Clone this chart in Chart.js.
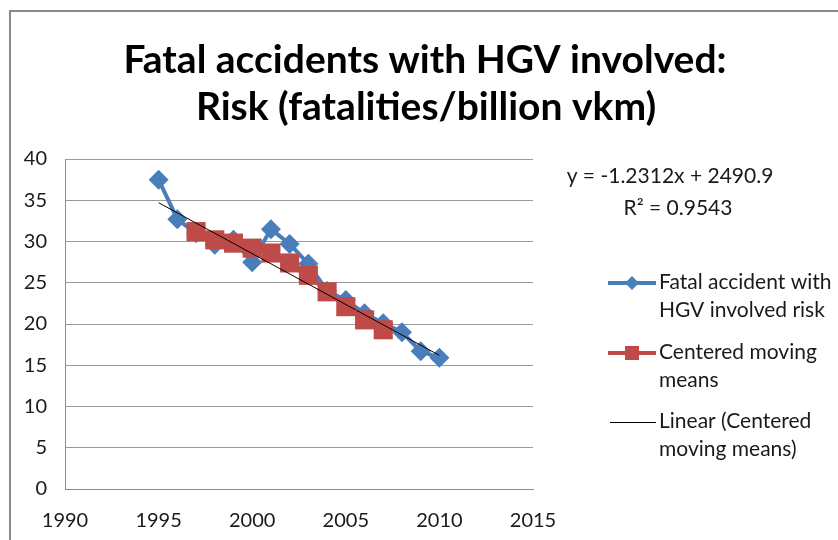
<!DOCTYPE html>
<html>
<head>
<meta charset="utf-8">
<title>Fatal accidents with HGV involved</title>
<script src="https://cdn.jsdelivr.net/npm/chart.js@4.4.1/dist/chart.umd.min.js"></script>
<style>
    html, body { margin: 0; padding: 0; background: #fff; overflow: hidden; }
    #wrap { position: relative; width: 838px; height: 540px; }
    #frame {
        position: absolute; left: 9px; top: 10px; width: 900px; height: 600px;
        border-left: 2px solid #8a8a8a; border-top: 2px solid #8a8a8a;
        pointer-events: none;
    }
</style>
</head>
<body>
<div id="wrap">
    <canvas id="myChart"></canvas>
    <div id="frame"></div>
</div>
<script>
// data
const riskYears = [1995, 1996, 1997, 1998, 1999, 2000, 2001, 2002, 2003, 2004, 2005, 2006, 2007, 2008, 2009, 2010];
const riskValues = [37.5, 32.7, 31.0, 29.6, 30.2, 27.5, 31.5, 29.7, 27.3, 24.0, 22.9, 21.3, 20.1, 19.0, 16.7, 15.9];

const cmmYears = [1997, 1998, 1999, 2000, 2001, 2002, 2003, 2004, 2005, 2006, 2007];
const cmmValues = [31.2, 30.2, 29.8, 29.2, 28.6, 27.4, 25.9, 23.9, 22.1, 20.5, 19.3];

// end points of the linear trend line as drawn
const trendYears = [1995, 2010];
const trendValues = [34.7, 16.2];

const xRange = [1990, 2015];
const yRange = [0, 40];
const tickStep = 5;

const titleLines = ['Fatal accidents with HGV involved:', 'Risk (fatalities/billion vkm)'];
const equationLines = ['y = -1.2312x + 2490.9', 'R\u00b2 = 0.9543'];
const legendLabels = [
    ['Fatal accident with', 'HGV involved risk'],
    ['Centered moving', 'means'],
    ['Linear (Centered', 'moving means)']
];

const BLUE = '#4a7ebb';
const RED = '#be4b48';
const FONT = 'Lato, "Open Sans", sans-serif';

const toPoints = (xs, ys) => xs.map((x, i) => ({ x, y: ys[i] }));

// title, trendline equation and legend are drawn here so they can sit
// where the original has them (title centred on the whole frame)
const sideLegendPlugin = {
    id: 'sideLegend',
    afterDraw(chart) {
        const { ctx } = chart;
        ctx.save();
        ctx.fillStyle = '#000';
        ctx.textAlign = 'center';
        ctx.textBaseline = 'alphabetic';
        ctx.font = 'bold 39px ' + FONT;
        ctx.fillText(titleLines[0], 425, 73);
        ctx.fillText(titleLines[1], 426, 120);

        ctx.fillStyle = '#1a1a1a';
        ctx.textBaseline = 'middle';
        ctx.font = '21px ' + FONT;
        ctx.fillText(equationLines[0], 670, 176);
        ctx.fillText(equationLines[1], 678, 208);

        ctx.textAlign = 'left';
        const rows = [283, 353, 422];
        rows.forEach((y, i) => {
            ctx.fillText(legendLabels[i][0], 659, y - 1);
            ctx.fillText(legendLabels[i][1], 659, y + 27);
        });

        // blue sample
        ctx.strokeStyle = BLUE;
        ctx.lineWidth = 4;
        ctx.beginPath();
        ctx.moveTo(608, rows[0]);
        ctx.lineTo(656, rows[0]);
        ctx.stroke();
        ctx.fillStyle = BLUE;
        ctx.beginPath();
        ctx.moveTo(625, rows[0]);
        ctx.lineTo(632, rows[0] - 7);
        ctx.lineTo(639, rows[0]);
        ctx.lineTo(632, rows[0] + 7);
        ctx.closePath();
        ctx.fill();

        // red sample
        ctx.strokeStyle = RED;
        ctx.beginPath();
        ctx.moveTo(608, rows[1]);
        ctx.lineTo(656, rows[1]);
        ctx.stroke();
        ctx.fillStyle = RED;
        ctx.fillRect(625, rows[1] - 7, 14, 14);

        // trend sample
        ctx.strokeStyle = '#000';
        ctx.lineWidth = 1;
        ctx.beginPath();
        ctx.moveTo(610, rows[2] + 0.5);
        ctx.lineTo(656, rows[2] + 0.5);
        ctx.stroke();

        ctx.restore();
    }
};

const config = {
    type: 'scatter',
    data: {
        datasets: [
            {
                label: 'Fatal accident with HGV involved risk',
                data: toPoints(riskYears, riskValues),
                showLine: true,
                borderColor: BLUE,
                backgroundColor: BLUE,
                borderWidth: 4,
                pointStyle: 'rectRot',
                pointRadius: 10,
                pointBorderWidth: 0,
                order: 3
            },
            {
                label: 'Centered moving means',
                data: toPoints(cmmYears, cmmValues),
                showLine: true,
                borderColor: RED,
                backgroundColor: RED,
                borderWidth: 4,
                pointStyle: 'rect',
                pointRadius: 13.5,
                pointBorderWidth: 0,
                order: 2
            },
            {
                label: 'Linear (Centered moving means)',
                data: toPoints(trendYears, trendValues),
                showLine: true,
                borderColor: '#000',
                borderWidth: 1,
                pointRadius: 0,
                order: 1
            }
        ]
    },
    options: {
        responsive: true,
        maintainAspectRatio: false,
        animation: false,
        layout: {
            padding: { left: 12, right: 305, top: 159, bottom: 0 }
        },
        plugins: {
            legend: { display: false },
            tooltip: { enabled: false },
            title: { display: false }
        },
        scales: {
            x: {
                type: 'linear',
                min: xRange[0],
                max: xRange[1],
                grid: { display: false },
                border: { display: true, color: '#8c8c8c', width: 1 },
                ticks: {
                    stepSize: tickStep,
                    color: '#1a1a1a',
                    padding: 12,
                    maxRotation: 0,
                    font: { family: FONT, size: 20 },
                    callback: (v) => String(v)
                },
                afterFit: (scale) => { scale.height = 51; }
            },
            y: {
                min: yRange[0],
                max: yRange[1],
                grid: { color: '#9a9a9a', drawTicks: false },
                border: { display: true, color: '#8c8c8c', width: 1 },
                ticks: {
                    stepSize: tickStep,
                    color: '#1a1a1a',
                    padding: 18,
                    font: { family: FONT, size: 20 }
                },
                afterFit: (scale) => { scale.width = 53; }
            }
        }
    },
    plugins: [sideLegendPlugin]
};

new Chart(document.getElementById('myChart'), config);
</script>
</body>
</html>
